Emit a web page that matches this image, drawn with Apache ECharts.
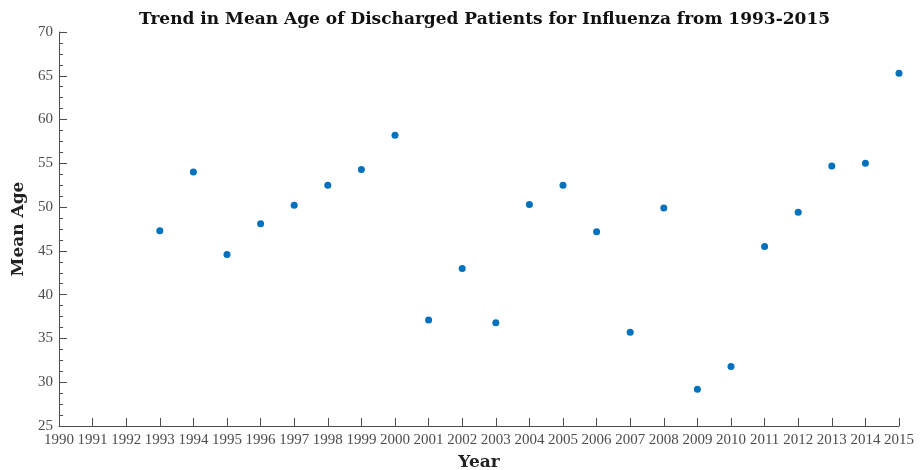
<!DOCTYPE html>
<html>
<head>
<meta charset="utf-8">
<script src="https://cdn.jsdelivr.net/npm/echarts@6/dist/echarts.min.js"></script>
<style>
html, body { margin: 0; padding: 0; background: #fff; }
#main { width: 922px; height: 470px; }
</style>
</head>
<body>
<div id="main"></div>
<script>
var years = [1993, 1994, 1995, 1996, 1997, 1998, 1999, 2000, 2001, 2002, 2003,
             2004, 2005, 2006, 2007, 2008, 2009, 2010, 2011, 2012, 2013, 2014, 2015];
var meanAge = [47.3, 54.0, 44.6, 48.1, 50.2, 52.5, 54.3, 58.2, 37.1, 43.0, 36.8,
               50.3, 52.5, 47.2, 35.7, 49.9, 29.2, 31.8, 45.5, 49.4, 54.7, 55.0, 65.3];

var points = years.map(function (y, i) { return [y, meanAge[i]]; });

var axisGray = '#4d4d4d';
var font = 'Liberation Serif';

var myChart = echarts.init(document.getElementById('main'));
var option = {
    backgroundColor: '#fff',
    animation: false,
    title: {
        text: 'Trend in Mean Age of Discharged Patients for Influenza from 1993-2015',
        left: 134,
        top: 6,
        textStyle: { fontFamily: 'DejaVu Serif', fontWeight: 'bold', fontSize: 17, color: '#111' }
    },
    grid: { left: 59, right: 23, top: 32, bottom: 44, outerBoundsMode: 'none' },
    xAxis: {
        type: 'value',
        min: 1990,
        max: 2015,
        interval: 1,
        name: 'Year',
        nameLocation: 'middle',
        nameGap: 28,
        nameTextStyle: { fontFamily: 'DejaVu Serif', fontWeight: 'bold', fontSize: 17, color: '#222' },
        axisLine: { show: true, lineStyle: { color: axisGray } },
        axisTick: { show: true, inside: true, length: 8, lineStyle: { color: axisGray } },
        axisLabel: { fontFamily: font, fontSize: 15, color: axisGray, margin: 7, interval: 0,
                     formatter: function (v) { return String(v); } },
        splitLine: { show: false }
    },
    yAxis: {
        type: 'value',
        min: 25,
        max: 70,
        interval: 5,
        name: 'Mean Age',
        nameLocation: 'middle',
        nameGap: 26,
        nameRotate: 90,
        nameTextStyle: { fontFamily: 'DejaVu Serif', fontWeight: 'bold', fontSize: 17, color: '#222' },
        axisLine: { show: true, lineStyle: { color: axisGray } },
        axisTick: { show: true, inside: true, length: 8, lineStyle: { color: axisGray } },
        minorTick: { show: true, splitNumber: 4, length: 4, lineStyle: { color: axisGray } },
        axisLabel: { fontFamily: font, fontSize: 15, color: axisGray, margin: 6 },
        splitLine: { show: false }
    },
    series: [{
        type: 'scatter',
        data: points,
        symbolSize: 7,
        itemStyle: { color: '#0072BD', opacity: 1 }
    }]
};
myChart.setOption(option);
</script>
</body>
</html>
